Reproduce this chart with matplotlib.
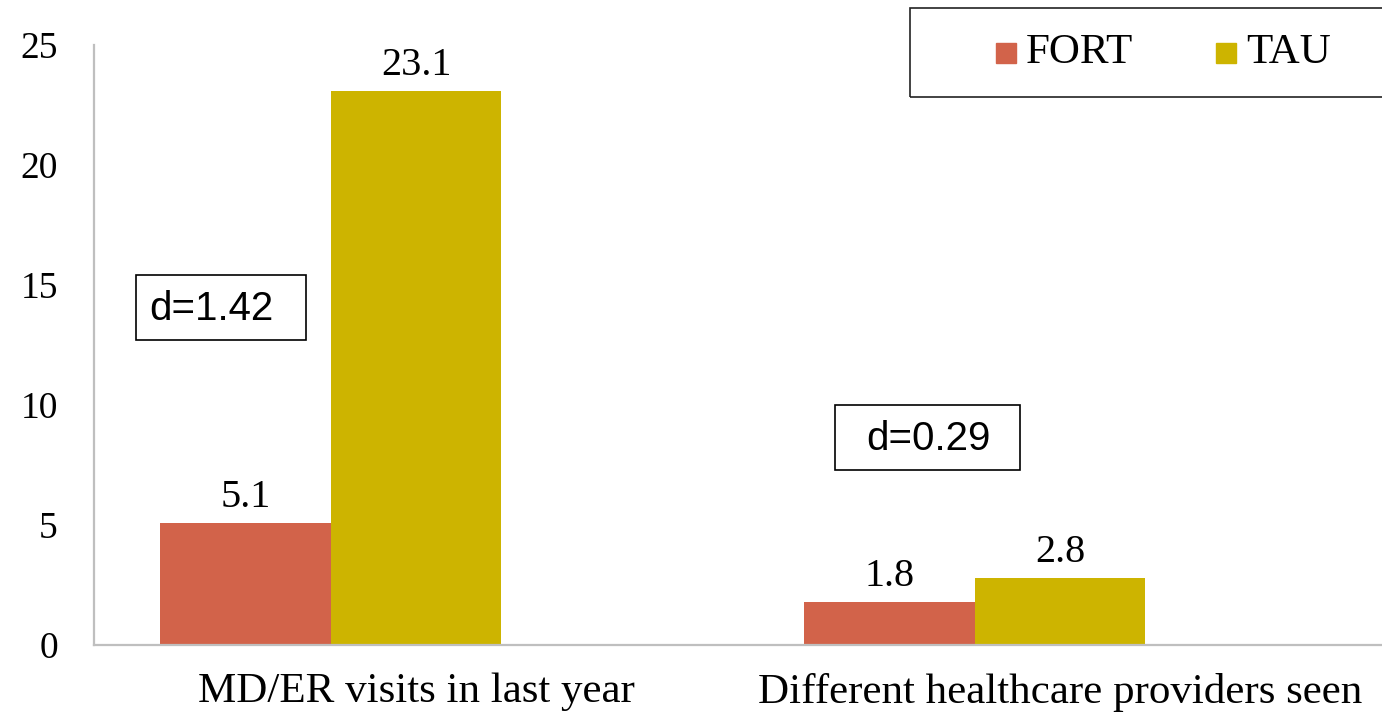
import matplotlib
matplotlib.use("Agg")
import matplotlib.pyplot as plt
from matplotlib.patches import Rectangle
import numpy as np

# ---- data ----
categories = ["MD/ER visits in last year", "Different healthcare providers seen"]
series_names = ["FORT", "TAU"]
fort_values = [5.1, 1.8]
tau_values = [23.1, 2.8]
effect_sizes = [1.42, 0.29]
y_ticks = [0, 5, 10, 15, 20, 25]

# ---- style ----
FORT_COLOR = "#D2634A"
TAU_COLOR = "#CDB400"
SPINE_COLOR = "#BFBFBF"
SERIF = ["Liberation Serif", "DejaVu Serif"]
SANS = ["Liberation Sans", "DejaVu Sans"]

W, H = 1382, 714
fig = plt.figure(figsize=(W / 100, H / 100), dpi=100)
ax = fig.add_axes([94 / W, (H - 645) / H, 1 - 94 / W, 600 / H])

x = np.arange(len(categories))
bw = 0.265
bars_fort = ax.bar(x - bw, fort_values, width=bw, color=FORT_COLOR, label=series_names[0])
bars_tau = ax.bar(x, tau_values, width=bw, color=TAU_COLOR, label=series_names[1])

for bars in (bars_fort, bars_tau):
    for b in bars:
        v = b.get_height()
        ax.annotate(f"{v:.1f}", (b.get_x() + b.get_width() / 2, v),
                    xytext=(0, 5), textcoords="offset points",
                    ha="center", va="bottom", fontsize=29, family=SERIF)

ax.set_xlim(-0.5, 1.5)
ax.set_ylim(0, 25)
ax.set_yticks(y_ticks)
ax.set_yticklabels([str(t) for t in y_ticks], family=SERIF, fontsize=27)
ax.set_xticks(x)
ax.set_xticklabels(categories, family=SERIF, fontsize=31)
ax.tick_params(axis="y", length=0, pad=26)
ax.tick_params(axis="x", length=0, pad=20)

for s in ("top", "right"):
    ax.spines[s].set_visible(False)
for s in ("left", "bottom"):
    ax.spines[s].set_color(SPINE_COLOR)
    ax.spines[s].set_linewidth(1.6)

# effect-size boxes (data coordinates)
d_boxes = [
    ((-0.435, 12.71), 0.264, 2.71, (-0.317, 14.0)),
    ((0.651, 7.29), 0.287, 2.71, (0.795, 8.6)),
]
for d, (xy, bw_box, bh_box, txy) in zip(effect_sizes, d_boxes):
    ax.add_patch(Rectangle(xy, bw_box, bh_box, fill=False, edgecolor="black",
                           linewidth=1.2, clip_on=False))
    ax.text(txy[0], txy[1], f"d={d:.2f}", ha="center", va="center",
            fontsize=29, family=SANS)

# legend box along the top right
lg_left, lg_right, lg_top, lg_bot = 910, 1407, 8, 97
fig.patches.append(Rectangle((lg_left / W, 1 - lg_bot / H), (lg_right - lg_left) / W,
                             (lg_bot - lg_top) / H, transform=fig.transFigure,
                             fill=False, edgecolor="#222222", linewidth=1.2))
for name, color, sq_x in zip(series_names, (FORT_COLOR, TAU_COLOR), (996, 1216)):
    fig.patches.append(Rectangle((sq_x / W, 1 - 63 / H), 20 / W, 20 / H,
                                 transform=fig.transFigure, color=color))
    fig.text((sq_x + 30) / W, 1 - 53 / H, name, ha="left", va="center",
             fontsize=31, family=SERIF)

fig.savefig("out.png", dpi=100)
